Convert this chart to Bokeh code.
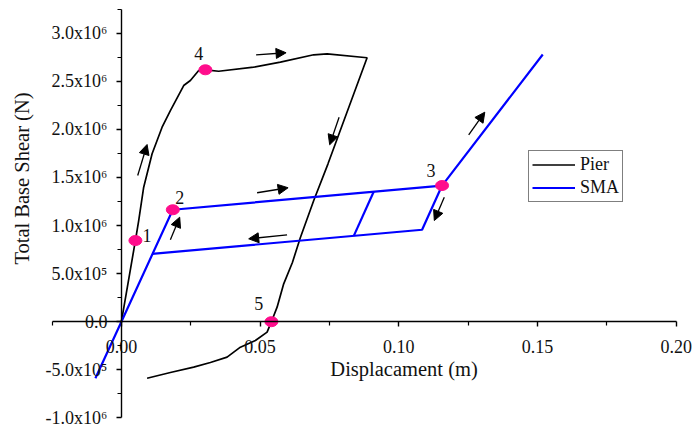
import math

from bokeh.core.properties import value
from bokeh.embed import file_html
from bokeh.models import (Arrow, ColumnDataSource, FixedTicker, Label, Legend,
                          LegendItem, NormalHead)
from bokeh.plotting import figure
from bokeh.resources import INLINE

# Pier hysteresis: displacement (m) and total base shear (N)
pier_disp = [0.0, 0.00505, 0.00624, 0.00804, 0.01107, 0.01467, 0.01766, 0.02246,
             0.02487, 0.02787, 0.03028, 0.03508, 0.04769, 0.05732, 0.06932, 0.07416,
             0.08857, 0.07448, 0.06934, 0.06453, 0.06165, 0.05851, 0.05613, 0.05408,
             0.05253, 0.04831, 0.0429, 0.0381, 0.03208, 0.02606, 0.01766, 0.00926]
pier_shear = [0.0, 0.844e6, 1.052e6, 1.399e6, 1.746e6, 2.023e6, 2.196e6, 2.456e6,
              2.508e6, 2.612e6, 2.620e6, 2.605e6, 2.647e6, 2.699e6, 2.776e6, 2.786e6,
              2.745e6, 1.642e6, 1.260e6, 0.876e6, 0.616e6, 0.394e6, 0.151e6, 0.0,
              -0.109e6, -0.196e6, -0.265e6, -0.369e6, -0.424e6, -0.473e6, -0.528e6, -0.588e6]

# SMA response, drawn as three branches
sma_disp = [
    [-0.00937, 0.0, 0.01853, 0.1156, 0.1519],   # loading
    [0.1156, 0.1084, 0.01107],                   # unloading from point 3
    [0.09095, 0.08378],                          # inner unloading branch
]
sma_shear = [
    [-0.588e6, 0.0, 1.164e6, 1.416e6, 2.779e6],
    [1.416e6, 0.956e6, 0.706e6],
    [1.352e6, 0.893e6],
]

# Numbered state points
point_labels = ["1", "2", "3", "4", "5"]
point_disp = [0.00505, 0.01853, 0.1156, 0.03028, 0.05408]
point_shear = [0.844e6, 1.164e6, 1.416e6, 2.620e6, 0.0]

# Direction arrows (tail -> head)
arrow_x0 = [0.00588, 0.04856, 0.07848, 0.04892, 0.01766, 0.05973, 0.1252, 0.1164]
arrow_y0 = [1.520e6, 2.776e6, 2.127e6, 1.341e6, 0.852e6, 0.904e6, 1.944e6, 1.295e6]
arrow_x1 = [0.00926, 0.05937, 0.07509, 0.0601, 0.02102, 0.04589, 0.1310, 0.1128]
arrow_y1 = [1.843e6, 2.797e6, 1.840e6, 1.393e6, 1.087e6, 0.862e6, 2.179e6, 1.052e6]

# Axis ticks and labels
x_ticks = [0.0, 0.05, 0.10, 0.15, 0.20]
x_minor = [-0.025, 0.025, 0.075, 0.125, 0.175]
y_ticks = [-1.0e6, -0.5e6, 0.0, 0.5e6, 1.0e6, 1.5e6, 2.0e6, 2.5e6, 3.0e6]
y_minor = [-0.75e6, -0.25e6, 0.25e6, 0.75e6, 1.25e6, 1.75e6, 2.25e6, 2.75e6, 3.25e6]
y_tick_labels = ["-1.0x10\u2076", "-5.0x10\u2075", "0.0", "5.0x10\u2075", "1.0x10\u2076",
                 "1.5x10\u2076", "2.0x10\u2076", "2.5x10\u2076", "3.0x10\u2076"]

FONT = "Liberation Serif"
TEXT_COLOR = "#111111"
PINK = "#FF0D8C"

# The plotting area fills the canvas; the axes cross at the origin and are
# limited to their own bounds, with titles and tick labels drawn around them.
p = figure(width=695, height=432, x_range=(-0.04358, 0.20696), y_range=(-1.1524e6, 3.3406e6),
           output_backend="svg", toolbar_location=None,
           min_border_left=0, min_border_right=0, min_border_top=0, min_border_bottom=0)
p.xgrid.grid_line_color = None
p.ygrid.grid_line_color = None
p.outline_line_color = None
p.background_fill_color = "white"
p.border_fill_color = "white"

p.xaxis.fixed_location = 0
p.yaxis.fixed_location = 0
p.xaxis.bounds = (-0.025, 0.20)
p.yaxis.bounds = (-1.0e6, 3.25e6)
p.xaxis.ticker = FixedTicker(ticks=x_ticks, minor_ticks=x_minor)
p.yaxis.ticker = FixedTicker(ticks=y_ticks, minor_ticks=y_minor)
p.xaxis.major_label_overrides = {t: f"{t:.2f}" for t in x_ticks}
p.yaxis.major_label_overrides = dict(zip(y_ticks, y_tick_labels))

for ax in (p.xaxis[0], p.yaxis[0]):
    ax.axis_line_color = "black"
    ax.axis_line_width = 1.4
    ax.major_tick_line_color = "black"
    ax.minor_tick_line_color = "black"
    ax.major_tick_line_width = 1.4
    ax.minor_tick_line_width = 1.2
    ax.major_tick_in = 0
    ax.major_tick_out = 5
    ax.minor_tick_in = 0
    ax.minor_tick_out = 4
    ax.major_label_text_font = FONT
    ax.major_label_text_font_size = "18px"
    ax.major_label_text_color = TEXT_COLOR
p.xaxis.major_label_standoff = 13
p.yaxis.major_label_standoff = 9

# Axis titles
p.add_layout(Label(x=0.1019, y=-0.492e6, text="Displacament (m)", text_font=FONT,
                   text_font_size="20.5px", text_color=TEXT_COLOR,
                   text_align="center", text_baseline="middle"))
p.add_layout(Label(x=-0.03565, y=1.489e6, text="Total Base Shear (N)", text_font=FONT,
                   text_font_size="20.5px", text_color=TEXT_COLOR, angle=math.pi / 2,
                   text_align="center", text_baseline="middle"))

# Curves
pier_r = p.line(pier_disp, pier_shear, line_color="black", line_width=1.7)
sma_r = p.multi_line(sma_disp, sma_shear, line_color="#0000FF", line_width=2.2)

# Direction arrows
arrows = ColumnDataSource(dict(x0=arrow_x0, y0=arrow_y0, x1=arrow_x1, y1=arrow_y1))
p.add_layout(Arrow(source=arrows, x_start="x0", y_start="y0", x_end="x1", y_end="y1",
                   line_color="black", line_width=1.3,
                   end=NormalHead(size=10, fill_color="black", line_color="black", line_width=1)))

# State points with their numbers
pts = ColumnDataSource(dict(x=point_disp, y=point_shear, label=point_labels,
                            dx=[11.7, 7.0, -11.0, -6.7, -12.7],
                            dy=[-5.0, -12.6, -15.0, -16.0, -18.0]))
p.ellipse(x="x", y="y", width=13, height=10, width_units="screen", height_units="screen",
          fill_color=PINK, line_color=PINK, source=pts)
p.text(x="x", y="y", text="label", x_offset="dx", y_offset="dy", source=pts,
       text_font=value(FONT), text_font_size="18px", text_color=TEXT_COLOR,
       text_align="center", text_baseline="middle")

legend = Legend(items=[LegendItem(label="Pier", renderers=[pier_r]),
                       LegendItem(label="SMA", renderers=[sma_r])],
                location=(528, 230), border_line_color="black", border_line_width=1,
                background_fill_color="white", background_fill_alpha=1.0,
                padding=3, spacing=2, margin=0, glyph_width=43, glyph_height=19,
                label_height=19, label_standoff=5, label_text_font=FONT,
                label_text_font_size="18px", label_text_color=TEXT_COLOR)
p.add_layout(legend)

open("out.html", "w").write(file_html(p, INLINE))
